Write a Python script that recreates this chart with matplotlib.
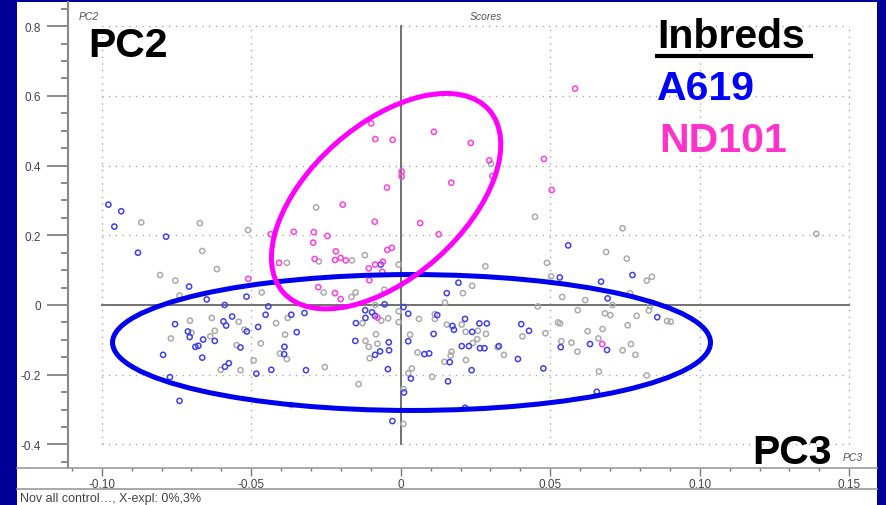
import matplotlib
matplotlib.use("Agg")
import matplotlib.pyplot as plt
from matplotlib.patches import Ellipse, Rectangle
from matplotlib.lines import Line2D
from matplotlib.transforms import ScaledTranslation

plt.rcParams['font.family'] = ['Liberation Sans', 'DejaVu Sans']

# PCA scores (PC3 vs PC2)
a619_x = [-0.0978, -0.0935, -0.0958, -0.0785, -0.0879, -0.0708, -0.0649, -0.0516, -0.0589, -0.0443,
          -0.0452, -0.0366, -0.0322, -0.0564, -0.0593, -0.0584, -0.0755, -0.0477, -0.0515, -0.0712,
          -0.0706, -0.0661, -0.0622, -0.0348, -0.0687, -0.0677, -0.0536, -0.0389, -0.0390, -0.0795,
          -0.0664, -0.0575, -0.0588, -0.0483, -0.0433, -0.0317, -0.0772, -0.0740, -0.0150, -0.0118,
          -0.0119, -0.0096, -0.0086, -0.0067, -0.0054, 0.0009, 0.0025, -0.0152, -0.0069, -0.0086,
          -0.0040, -0.0039, -0.0043, 0.0025, 0.0011, -0.0028, 0.0193, 0.0154, 0.0560, 0.0775,
          0.0532, 0.0670, 0.0692, 0.0858, 0.0122, 0.0215, 0.0263, 0.0288, 0.0173, 0.0178,
          0.0239, 0.0110, 0.0403, 0.0429, 0.0204, 0.0228, 0.0265, 0.0280, 0.0328, 0.0079,
          0.0095, 0.0164, 0.0392, 0.0237, 0.0477, 0.0034, 0.0158, 0.0215, 0.0656, 0.0535,
          0.0633, 0.0690]
a619_y = [0.288, 0.269, 0.225, 0.196, 0.150, 0.053, 0.016, 0.024, 0.000, -0.004,
          -0.028, -0.028, -0.023, -0.033, -0.047, -0.059, -0.055, -0.063, -0.076, -0.076,
          -0.092, -0.099, -0.103, -0.078, -0.120, -0.117, -0.122, -0.120, -0.141, -0.143,
          -0.151, -0.167, -0.177, -0.197, -0.186, -0.187, -0.207, -0.275, -0.052, -0.037,
          -0.015, -0.021, -0.031, 0.116, 0.002, -0.006, -0.025, -0.103, -0.133, -0.143,
          -0.107, -0.130, -0.184, -0.104, -0.251, -0.333, 0.064, 0.034, 0.171, 0.086,
          0.079, 0.067, 0.019, -0.035, -0.029, -0.040, -0.053, -0.053, -0.060, -0.071,
          -0.077, -0.083, -0.055, -0.074, -0.118, -0.118, -0.124, -0.124, -0.118, -0.141,
          -0.139, -0.164, -0.155, -0.187, -0.182, -0.211, -0.219, -0.295, -0.249, -0.121,
          -0.112, -0.129]

nd101_x = [-0.0099, -0.0085, -0.0027, 0.0111, 0.0234, 0.0296, 0.0306, 0.0003, 0.0003, -0.0046,
           0.0169, -0.0194, -0.0087, 0.0065, 0.0127, -0.0435, -0.0358, -0.0291, -0.0245, -0.0293,
           -0.0217, -0.0288, -0.0220, -0.0201, -0.0184, -0.0407, -0.0045, -0.0030, -0.0060, -0.0086,
           -0.0107, -0.0062, -0.0105, -0.0510, -0.0276, -0.0220, -0.0201, -0.0078, 0.0505, 0.0583,
           0.0479, 0.0674]
nd101_y = [0.521, 0.476, 0.474, 0.497, 0.465, 0.415, 0.370, 0.383, 0.369, 0.337,
           0.351, 0.288, 0.239, 0.235, 0.203, 0.203, 0.210, 0.209, 0.198, 0.179,
           0.154, 0.132, 0.129, 0.135, 0.128, 0.121, 0.158, 0.164, 0.124, 0.116,
           0.105, 0.095, 0.071, 0.075, 0.051, 0.034, 0.017, -0.036, 0.330, 0.621,
           0.419, -0.112]

other_x = [-0.0868, -0.0672, -0.0511, -0.0664, -0.0615, -0.0805, -0.0754, -0.0740, -0.0283, -0.0381,
           -0.0274, -0.0163, -0.0120, -0.0007, -0.0055, -0.0258, -0.0165, -0.0151, -0.0465, -0.0085,
           -0.0632, -0.0705, -0.0542, -0.0622, -0.0700, -0.0637, -0.0523, -0.0769, -0.0549, -0.0468,
           -0.0417, -0.0378, -0.0387, -0.0404, -0.0381, -0.0492, -0.0602, -0.0536, -0.0254, -0.0141,
           -0.0367, -0.0128, -0.0118, -0.0107, -0.0078, -0.0083, -0.0104, -0.0065, -0.0042, -0.0007,
           -0.0007, 0.0025, 0.0009, 0.0009, 0.0283, 0.0208, 0.0239, 0.0148, 0.0302, 0.0449,
           0.0742, 0.0687, 0.0756, 0.0489, 0.0503, 0.0540, 0.0617, 0.0823, 0.0840, 0.0767,
           0.0708, 0.0458, 0.0592, 0.0834, 0.0830, 0.0789, 0.0891, 0.0903, 0.0683, 0.0701,
           0.0759, 0.0675, 0.0526, 0.0533, 0.0625, 0.0484, 0.0661, 0.0537, 0.0571, 0.0591,
           0.0742, 0.0770, 0.0785, 0.0663, 0.0823, 0.0407, 0.0345, 0.0285, 0.0258, 0.0241,
           0.0217, 0.0204, 0.0154, 0.0114, 0.0114, 0.0061, 0.0031, 0.0056, 0.0037, 0.0105,
           0.0146, 0.0167, 0.0170, 0.0218, 0.0256, 0.0324, 0.1390]
other_y = [0.237, 0.235, 0.215, 0.155, 0.103, 0.086, 0.070, 0.027, 0.280, 0.121,
           0.125, 0.128, 0.143, 0.116, 0.044, 0.036, 0.023, 0.036, 0.036, 0.000,
           -0.037, -0.045, -0.048, -0.074, -0.080, -0.090, -0.071, -0.096, -0.115, -0.110,
           -0.052, -0.037, -0.085, -0.139, -0.155, -0.159, -0.186, -0.187, -0.178, -0.227,
           -0.287, -0.052, -0.103, -0.120, -0.111, -0.084, -0.153, -0.045, -0.038, -0.049,
           -0.018, -0.196, -0.241, -0.341, 0.111, 0.034, 0.055, 0.007, 0.405, 0.253,
           0.220, 0.152, 0.133, 0.121, 0.082, 0.023, 0.014, 0.070, 0.081, 0.034,
           0.000, -0.004, -0.015, -0.002, -0.016, -0.031, -0.046, -0.048, -0.024, -0.029,
           -0.058, -0.069, -0.050, -0.053, -0.075, -0.081, -0.096, -0.104, -0.108, -0.134,
           -0.130, -0.112, -0.143, -0.191, -0.202, -0.090, -0.143, -0.083, -0.074, -0.109,
           -0.077, -0.056, -0.056, -0.026, -0.040, -0.040, -0.085, -0.136, -0.182, -0.206,
           -0.163, -0.145, -0.134, -0.158, -0.098, -0.121, 0.204]

x_ticks = [-0.10, -0.05, 0.0, 0.05, 0.10, 0.15]
x_ticklabels = ['-0.10', '-0.05', '0', '0.05', '0.10', '0.15']
y_ticks = [-0.4, -0.2, 0.0, 0.2, 0.4, 0.6, 0.8]
y_ticklabels = ['-0.4', '-0.2', '0', '0.2', '0.4', '0.6', '0.8']

W, H = 886, 506
NAVY = '#000099'

def fx(px):
    return px / W

def fy(py):
    return 1 - py / H

fig = plt.figure(figsize=(W / 100, H / 100), dpi=100)
fig.patch.set_facecolor(NAVY)

# white panel
fig.add_artist(Rectangle((fx(17), 0), fx(877) - fx(17), fy(3), transform=fig.transFigure,
                         facecolor='white', edgecolor='none', zorder=0))

ax = fig.add_axes([fx(68), fy(469), fx(877) - fx(68), fy(3) - fy(469)])
ax.set_facecolor('none')
ax.set_xlim(-0.1113, 0.1593)
ax.set_ylim(-0.4677, 0.8694)

for side in ['top', 'right', 'bottom']:
    ax.spines[side].set_visible(False)
ax.spines['left'].set_color('#888888')
ax.spines['left'].set_linewidth(1.5)

ax.set_xticks(x_ticks)
ax.set_xticklabels(x_ticklabels)
ax.set_xticks([v / 100 for v in range(-11, 16)], minor=True)
ax.set_yticks(y_ticks)
ax.set_yticklabels(y_ticklabels)
ax.set_yticks([v / 20 for v in range(-9, 18)], minor=True)
ax.tick_params(axis='both', which='major', color='#777777', labelcolor='#444444', labelsize=8.5)
ax.tick_params(axis='x', which='major', length=6, width=1, pad=1.5)
ax.tick_params(axis='x', which='minor', length=2, width=1, color='#777777')
ax.tick_params(axis='y', which='major', length=15, width=1.2, pad=4.3)
ax.tick_params(axis='y', which='minor', length=5, width=1.2, color='#777777')

# dotted grid inside the score window, solid zero lines
dots = dict(color='#9a9a9a', lw=1.0, linestyle=(0, (0.8, 4)), zorder=1)
for yv in y_ticks:
    if yv != 0:
        ax.plot([-0.10, 0.15], [yv, yv], **dots)
for xv in x_ticks:
    if xv != 0:
        ax.plot([xv, xv], [-0.4, 0.8], **dots)
ax.plot([-0.10, 0.15], [0, 0], color='#666666', lw=1.3, zorder=1)
ax.plot([0, 0], [-0.4, 0.8], color='#666666', lw=1.3, zorder=1)

# score points
ax.scatter(other_x, other_y, s=14, facecolors='none', edgecolors='#aaaaaa', linewidths=1.1, zorder=2)
ax.scatter(a619_x, a619_y, s=14, facecolors='none', edgecolors='#4040f0', linewidths=1.1, zorder=3)
ax.scatter(nd101_x, nd101_y, s=14, facecolors='none', edgecolors='#ff40e0', linewidths=1.1, zorder=4)

# group outlines
ax.add_patch(Ellipse((0.0036, -0.1076), 0.200, 0.390, fill=False, edgecolor='#0000ee', lw=3.6, zorder=5))
ax.add_patch(Ellipse((0, 0), 2.75, 1.53, angle=41.6, fill=False, edgecolor='#ff00ff', lw=3.6, zorder=5,
                     transform=fig.dpi_scale_trans + ScaledTranslation(-0.0049, 0.298, ax.transData)))

# bottom rules of the scores window
for py in (469, 490):
    fig.add_artist(Line2D([fx(17), fx(877)], [fy(py), fy(py)], transform=fig.transFigure,
                          color='#999999', lw=1.2))

small = dict(fontsize=7.5, color='#555555', style='italic')
fig.text(fx(79), fy(17), 'PC2', ha='left', va='center', **small)
fig.text(fx(486), fy(17), 'Scores', ha='center', va='center', **small)
fig.text(fx(843), fy(458), 'PC3', ha='left', va='center', **small)
fig.text(fx(20), fy(499), 'Nov all control\u2026, X-expl: 0%,3%', ha='left', va='center',
         fontsize=9, color='#444444')

big = dict(fontsize=29.5, fontweight='bold', va='baseline', ha='left')
fig.text(fx(88), fy(57), 'PC2', color='black', **big)
fig.text(fx(752), fy(464), 'PC3', color='black', **big)
fig.text(fx(657), fy(48), 'Inbreds', color='black', **big)
fig.add_artist(Line2D([fx(657), fx(811)], [fy(57), fy(57)], transform=fig.transFigure,
                      color='black', lw=3))
fig.text(fx(657), fy(100), 'A619', color='#0000ff', **big)
fig.text(fx(659), fy(152), 'ND101', color='#ff33cc', **big)

fig.savefig('out.png', dpi=100, facecolor=fig.get_facecolor())
